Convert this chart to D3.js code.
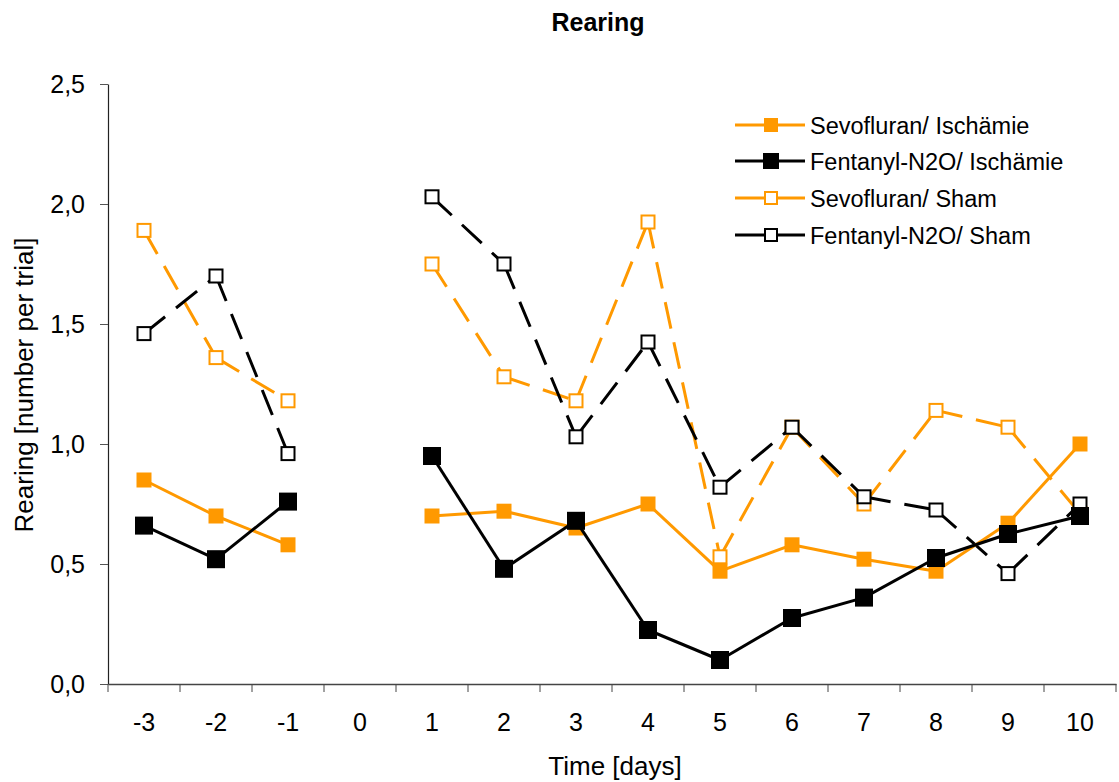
<!DOCTYPE html>
<html>
<head>
<meta charset="utf-8">
<script src="https://cdn.jsdelivr.net/npm/d3@7"></script>
<style>
  body { margin: 0; background: #fff; }
  svg { display: block; font-family: "Liberation Sans", Arial, sans-serif; }
</style>
</head>
<body>
<svg id="chart" width="1119" height="782"></svg>
<script>
// Time points (days); day 0 has no measurements
const days = [-3, -2, -1, 0, 1, 2, 3, 4, 5, 6, 7, 8, 9, 10];
const yTicks = [0, 0.5, 1.0, 1.5, 2.0, 2.5];

// Mean rearing counts per trial
const sevoIschaemie     = [0.85, 0.70, 0.58, null, 0.70, 0.72, 0.65, 0.75, 0.47, 0.58, 0.52, 0.47, 0.67, 1.00];
const fentanylIschaemie = [0.66, 0.52, 0.76, null, 0.95, 0.48, 0.68, 0.225, 0.10, 0.275, 0.36, 0.525, 0.625, 0.70];
const sevoSham          = [1.89, 1.36, 1.18, null, 1.75, 1.28, 1.18, 1.925, 0.53, 1.07, 0.75, 1.14, 1.07, 0.71];
const fentanylSham      = [1.46, 1.70, 0.96, null, 2.03, 1.75, 1.03, 1.425, 0.82, 1.07, 0.78, 0.725, 0.46, 0.75];

const seriesNames = ["Sevofluran/ Ischämie", "Fentanyl-N2O/ Ischämie", "Sevofluran/ Sham", "Fentanyl-N2O/ Sham"];

const ORANGE = "#ff9900";
const series = [
  { name: seriesNames[0], values: sevoIschaemie,     color: ORANGE, filled: true,  dashed: false, size: 15 },
  { name: seriesNames[1], values: fentanylIschaemie, color: "#000", filled: true,  dashed: false, size: 18 },
  { name: seriesNames[2], values: sevoSham,          color: ORANGE, filled: false, dashed: true,  size: 13 },
  { name: seriesNames[3], values: fentanylSham,      color: "#000", filled: false, dashed: true,  size: 13 }
];

const svg = d3.select("#chart");
const margin = { left: 108, right: 1116, top: 84, bottom: 684 };

const x = d3.scaleBand().domain(days).range([margin.left, margin.right]);
const y = d3.scaleLinear().domain([0, 2.5]).range([margin.bottom, margin.top]);
const fmt = v => d3.format(".1f")(v).replace(".", ",");
const FONT = "Liberation Sans, Arial, sans-serif";

// Title
svg.append("text")
  .attr("x", 598).attr("y", 31)
  .attr("text-anchor", "middle")
  .attr("font-size", 25).attr("font-weight", "bold")
  .text("Rearing");

// Y axis
const yAxis = svg.append("g")
  .attr("transform", `translate(${margin.left},0)`)
  .call(d3.axisLeft(y).tickValues(yTicks).tickFormat(fmt).tickSize(8).tickSizeOuter(0));
yAxis.select(".domain").attr("stroke", "#222").attr("stroke-width", 1.2);
yAxis.selectAll(".tick line").attr("stroke", "#555");
yAxis.selectAll(".tick text").attr("font-size", 25).attr("fill", "#000")
  .attr("x", -23).attr("dy", "0.35em").attr("font-family", FONT);

// X axis: ticks sit between categories
const xAxis = svg.append("g")
  .attr("transform", `translate(0,${margin.bottom})`)
  .call(d3.axisBottom(x).tickSize(0).tickSizeOuter(0));
xAxis.select(".domain").attr("stroke", "#444").attr("stroke-width", 1.4);
xAxis.selectAll(".tick text").attr("font-size", 25).attr("fill", "#000")
  .attr("dy", 0).attr("y", 47).attr("font-family", FONT);
const boundaries = days.map(d => x(d)).concat([x(days[days.length - 1]) + x.bandwidth()]);
xAxis.selectAll("line.sep")
  .data(boundaries)
  .join("line")
  .attr("class", "sep")
  .attr("x1", d => d).attr("x2", d => d)
  .attr("y1", 0).attr("y2", 8)
  .attr("stroke", "#444").attr("stroke-width", 1);

// Axis titles
svg.append("text")
  .attr("x", 615).attr("y", 775)
  .attr("text-anchor", "middle").attr("font-size", 26)
  .text("Time [days]");
svg.append("text")
  .attr("transform", `translate(33,385) rotate(-90)`)
  .attr("text-anchor", "middle").attr("font-size", 26)
  .text("Rearing [number per trial]");

const cx = d => x(d) + x.bandwidth() / 2;
const line = d3.line()
  .x(d => cx(d.day))
  .y(d => y(d.v));

// Draw order: sham series first, then ischaemia series on top.
// Each segment is its own path so the dash pattern restarts at every point.
const drawOrder = [2, 3, 0, 1];
drawOrder.forEach(i => {
  const s = series[i];
  const pts = days.map((day, k) => ({ day, v: s.values[k] }));
  const segments = d3.pairs(pts).filter(([a, b]) => a.v !== null && b.v !== null);
  svg.append("g").selectAll("path")
    .data(segments)
    .join("path")
    .attr("d", line)
    .attr("fill", "none")
    .attr("stroke", s.color)
    .attr("stroke-width", 3)
    .attr("stroke-dasharray", s.dashed ? "27,14" : null);
  const h = s.size / 2;
  svg.append("g").selectAll("rect")
    .data(pts.filter(p => p.v !== null))
    .join("rect")
    .attr("x", p => cx(p.day) - h)
    .attr("y", p => y(p.v) - h)
    .attr("width", s.size).attr("height", s.size)
    .attr("fill", s.filled ? s.color : "#fff")
    .attr("stroke", s.color)
    .attr("stroke-width", s.filled ? 0 : 2);
});

// Legend
const legend = svg.append("g");
const legendRows = [125, 161, 198, 235];
series.forEach((s, i) => {
  const g = legend.append("g").attr("transform", `translate(0,${legendRows[i]})`);
  g.append("line").attr("x1", 735).attr("x2", 805).attr("y1", 0).attr("y2", 0)
    .attr("stroke", s.color).attr("stroke-width", 3);
  const sz = s.filled ? (i === 1 ? 16 : 14) : 12;
  g.append("rect").attr("x", 771 - sz / 2).attr("y", -sz / 2)
    .attr("width", sz).attr("height", sz)
    .attr("fill", s.filled ? s.color : "#fff")
    .attr("stroke", s.color).attr("stroke-width", s.filled ? 0 : 2);
  g.append("text").attr("x", 810).attr("y", 8.5).attr("font-size", 23.5).text(s.name);
});
</script>
</body>
</html>
